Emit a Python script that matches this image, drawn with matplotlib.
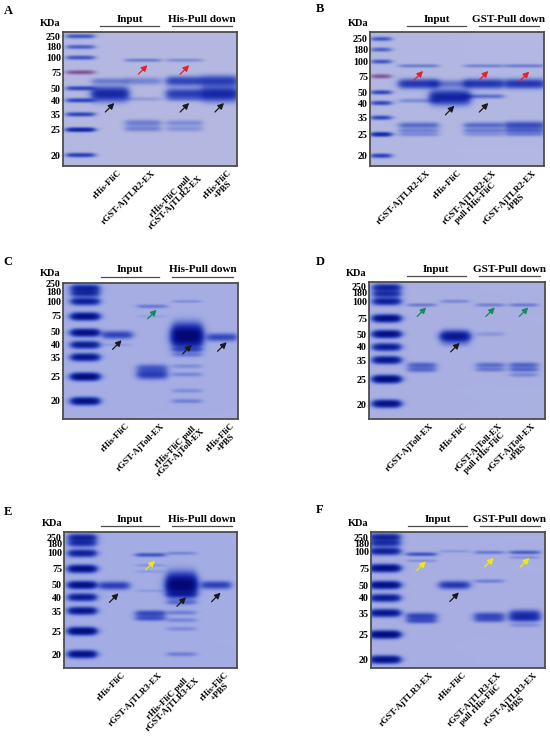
import numpy as np
import matplotlib.pyplot as plt
from matplotlib.colors import to_rgb
from matplotlib.transforms import ScaledTranslation

plt.rcParams['font.family'] = ['Liberation Serif', 'DejaVu Serif']
plt.rcParams['font.weight'] = 'bold'

panels = ['A', 'B', 'C', 'D', 'E', 'F']

# marker lane
ladder_kda = [250, 180, 100, 75, 50, 40, 35, 25, 20]
ladder_pos = {   # where each marker band sits, 0 = top of gel, 1 = bottom
    'A': [0.03, 0.11, 0.19, 0.30, 0.42, 0.51, 0.615, 0.73, 0.92],
    'B': [0.05, 0.13, 0.22, 0.33, 0.45, 0.53, 0.64, 0.765, 0.925],
    'C': [0.037, 0.075, 0.134, 0.245, 0.365, 0.455, 0.546, 0.69, 0.87],
    'D': [0.04, 0.085, 0.14, 0.265, 0.38, 0.475, 0.57, 0.71, 0.89],
    'E': [0.04, 0.08, 0.155, 0.27, 0.39, 0.48, 0.58, 0.73, 0.90],
    'F': [0.037, 0.08, 0.14, 0.265, 0.39, 0.485, 0.596, 0.755, 0.94],
}
# where the size numbers are printed beside the gel
label_pos = {
    'A': [0.03, 0.11, 0.19, 0.30, 0.42, 0.51, 0.615, 0.73, 0.92],
    'B': [0.05, 0.13, 0.22, 0.33, 0.45, 0.53, 0.64, 0.765, 0.925],
    'C': [0.005, 0.061, 0.134, 0.237, 0.359, 0.451, 0.546, 0.688, 0.866],
    'D': [0.032, 0.075, 0.141, 0.268, 0.38, 0.474, 0.572, 0.713, 0.895],
    'E': [0.039, 0.081, 0.154, 0.272, 0.387, 0.48, 0.583, 0.73, 0.902],
    'F': [0.037, 0.081, 0.142, 0.265, 0.392, 0.485, 0.596, 0.755, 0.939],
}
ladder_amount = {
    'A': [0.7, 0.6, 0.7, 0.9, 0.9, 0.9, 0.9, 1.5, 1.0],
    'B': [0.7, 0.6, 0.7, 0.9, 0.9, 0.9, 0.9, 1.5, 1.0],
    'C': [1.3, 1.1, 1.4, 2.0, 2.0, 1.5, 1.7, 2.2, 1.9],
    'D': [1.3, 1.1, 1.4, 2.0, 2.0, 1.5, 1.7, 2.2, 1.9],
    'E': [1.3, 1.1, 1.4, 2.0, 2.0, 1.5, 1.7, 2.2, 1.9],
    'F': [1.3, 1.1, 1.4, 2.0, 2.0, 1.5, 1.7, 2.2, 1.9],
}

lane_names = {
    'A': ['rHis-FliC', 'rGST-AjTLR2-EX', 'rHis-FliC pull\nrGST-AjTLR2-EX', 'rHis-FliC\n+PBS'],
    'B': ['rGST-AjTLR2-EX', 'rHis-FliC', 'rGST-AjTLR2-EX\npull rHis-FliC', 'rGST-AjTLR2-EX\n+PBS'],
    'C': ['rHis-FliC', 'rGST-AjToll-EX', 'rHis-FliC pull\nrGST-AjToll-EX', 'rHis-FliC\n+PBS'],
    'D': ['rGST-AjToll-EX', 'rHis-FliC', 'rGST-AjToll-EX\npull rHis-FliC', 'rGST-AjToll-EX\n+PBS'],
    'E': ['rHis-FliC', 'rGST-AjTLR3-EX', 'rHis-FliC pull\nrGST-AjTLR3-EX', 'rHis-FliC\n+PBS'],
    'F': ['rGST-AjTLR3-EX', 'rHis-FliC', 'rGST-AjTLR3-EX\npull rHis-FliC', 'rGST-AjTLR3-EX\n+PBS'],
}
pull_title = {'A': 'His-Pull down', 'B': 'GST-Pull down', 'C': 'His-Pull down',
              'D': 'GST-Pull down', 'E': 'His-Pull down', 'F': 'GST-Pull down'}

# sample bands: (lane, apparent kDa, amount of stain, spread)
bands = {
    'A': [(1, 60, 0.35, 2), (1, 45, 1.4, 4.5),
          (2, 95, 0.35, 1.2), (2, 60, 0.3, 2.5), (2, 41, 0.15, 1.5), (2, 29, 0.35, 2.2), (2, 25.5, 0.3, 2),
          (3, 95, 0.25, 1.2), (3, 60, 0.9, 3), (3, 45, 1.0, 3.5), (3, 41, 0.15, 1.5), (3, 29, 0.25, 2), (3, 25.5, 0.2, 2),
          (4, 60, 1.0, 3.5), (4, 45, 1.4, 4.5)],
    'B': [(1, 92, 0.35, 1.2), (1, 62, 1.1, 3), (1, 42, 0.25, 1.5), (1, 30, 0.5, 2), (1, 27, 0.3, 1.5), (1, 25, 0.25, 1.5),
          (2, 62, 0.4, 2.5), (2, 45, 1.5, 4.5),
          (3, 92, 0.3, 1.2), (3, 62, 1.1, 3), (3, 46, 0.45, 1.5), (3, 30, 0.5, 2), (3, 27, 0.35, 1.5), (3, 25, 0.2, 1.5),
          (4, 92, 0.35, 1.2), (4, 62, 1.1, 3), (4, 30, 0.8, 2.5), (4, 27, 0.5, 1.8), (4, 25, 0.3, 1.5)],
    'C': [(1, 48, 0.9, 2.5), (1, 40, 0.1, 1),
          (2, 91, 0.35, 1.3), (2, 75, 0.08, 1), (2, 29, 0.6, 2.5), (2, 26, 1.0, 3),
          (3, 100, 0.2, 1), (3, 47, 3.0, 7), (3, 38, 0.5, 1.5), (3, 36, 0.3, 1.5), (3, 30, 0.2, 1.5),
          (3, 26, 0.25, 1.5), (3, 22, 0.2, 1.5), (3, 20, 0.3, 1.5),
          (4, 46, 0.85, 2.5)],
    'D': [(1, 94, 0.35, 1.2), (1, 32, 0.55, 1.8), (1, 29.6, 0.5, 1.8),
          (2, 100, 0.25, 1.2), (2, 48, 2.0, 3.5), (2, 42, 0.15, 2),
          (3, 94, 0.3, 1.2), (3, 50, 0.15, 1.5), (3, 32, 0.45, 1.8), (3, 29.6, 0.35, 1.5),
          (4, 94, 0.35, 1.2), (4, 32, 0.55, 1.8), (4, 29.6, 0.5, 1.5), (4, 27, 0.25, 1.5)],
    'E': [(1, 49.5, 1.0, 2.5),
          (2, 97, 0.7, 1.3), (2, 80, 0.15, 1), (2, 70, 0.12, 1), (2, 45, 0.12, 1), (2, 33.5, 0.85, 2), (2, 31, 0.7, 1.8),
          (3, 100, 0.25, 1.2), (3, 50, 3.0, 7), (3, 42, 0.6, 1.5), (3, 38, 0.35, 1.5), (3, 34, 0.3, 1.5),
          (3, 30, 0.25, 1.5), (3, 26, 0.2, 1.5), (3, 20, 0.3, 1.5),
          (4, 50, 0.95, 2.5)],
    'F': [(1, 95, 0.7, 1.3), (1, 85, 0.2, 1), (1, 33.3, 0.9, 2.2), (1, 31, 0.7, 1.8),
          (2, 100, 0.15, 1), (2, 50, 1.1, 2.5),
          (3, 98, 0.35, 1.2), (3, 55, 0.3, 1.3), (3, 33.5, 0.8, 2.2), (3, 31.5, 0.55, 1.8),
          (4, 98, 0.6, 1.3), (4, 90, 0.2, 1), (4, 34, 1.2, 3), (4, 32, 0.7, 2), (4, 29, 0.2, 1.5)],
}

# arrows: (lane, kDa at the tip, colour key)
arrows = {
    'A': [(1, 39, 'k'), (2, 86, 'r'), (3, 86, 'r'), (3, 39, 'k'), (4, 39, 'k')],
    'B': [(1, 83, 'r'), (2, 39, 'k'), (3, 83, 'r'), (3, 40, 'k'), (4, 82, 'r')],
    'C': [(1, 43.5, 'k'), (2, 85, 'g'), (3, 40, 'k'), (4, 42, 'k')],
    'D': [(1, 90, 'g'), (2, 43, 'k'), (3, 90, 'g'), (4, 90, 'g')],
    'E': [(1, 43, 'k'), (2, 87, 'y'), (3, 40, 'k'), (4, 43.5, 'k')],
    'F': [(1, 84, 'y'), (2, 44, 'k'), (3, 89, 'y'), (4, 89, 'y')],
}

# layout (pixels of the 550 x 736 figure)
W, H = 550, 736
gel_box = {'A': (63, 32, 237, 166), 'B': (370, 32, 544, 166),
           'C': (63, 283, 238, 419), 'D': (369, 282, 545, 419),
           'E': (64, 532, 237, 668), 'F': (371, 532, 545, 668)}
letter_xy = {'A': (8, 11), 'B': (320, 9), 'C': (8, 262), 'D': (320, 262), 'E': (8, 512), 'F': (320, 510)}
lane_pos = {   # ladder first, then the four samples
    'A': [0.10, 0.27, 0.46, 0.70, 0.90],
    'B': [0.063, 0.28, 0.46, 0.655, 0.89],
    'C': [0.126, 0.31, 0.51, 0.71, 0.91],
    'D': [0.10, 0.30, 0.49, 0.69, 0.88],
    'E': [0.105, 0.29, 0.50, 0.68, 0.88],
    'F': [0.08, 0.29, 0.48, 0.68, 0.885],
}
lane_hw = {'A': (0.075, 0.10), 'B': (0.052, 0.11), 'C': (0.072, 0.08),
           'D': (0.07, 0.075), 'E': (0.072, 0.08), 'F': (0.078, 0.08)}
gel_bg = {'A': '#b5b9e1', 'B': '#b3b8e2', 'C': '#a6aee4', 'D': '#aab0e2', 'E': '#a4ade4', 'F': '#a9afe3'}
band_col = '#2a3cb4'
arrow_col = {'k': '#1a1a1a', 'r': '#e8202a', 'g': '#168a5a', 'y': '#f5ea00'}

fig = plt.figure(figsize=(5.5, 7.36), dpi=100)

for p in panels:
    x0, y0, x1, y1 = gel_box[p]
    gw, gh = x1 - x0, y1 - y0
    ax = fig.add_axes([x0 / W, 1 - y1 / H, gw / W, gh / H])
    bg = np.array(to_rgb(gel_bg[p]))
    pos = ladder_pos[p]

    def kda_to_y(k):
        return np.interp(np.log(k), np.log(ladder_kda[::-1]), pos[::-1])

    yy = np.linspace(0, 1, 2 * gh)[:, None]
    xx = np.linspace(0, 1, 2 * gw)[None, :]

    def band(xc, hw, yc, amount, spread, colour):
        k = -np.log(np.clip(np.array(to_rgb(colour)) / bg, 1e-3, 1))
        prof = np.exp(-0.5 * ((yy - yc) / (spread / gh)) ** 2)
        prof = prof / (1 + np.exp(-(hw - np.abs(xx - xc)) / 0.012))
        return amount * prof[:, :, None] * k

    absorb = np.zeros((2 * gh, 2 * gw, 3))
    big = p in 'CDEF'
    for i, k in enumerate(ladder_kda):
        c = '#7a4a8a' if (k == 75 and not big) else ('#1f32a8' if big else band_col)
        absorb += band(lane_pos[p][0], lane_hw[p][0], pos[i], ladder_amount[p][i], 2.3 if big else 1.4, c)
    for lane, k, amount, spread in bands[p]:
        absorb += band(lane_pos[p][lane], lane_hw[p][1], kda_to_y(k), amount, spread, band_col)
    img = bg * np.exp(-absorb)
    ax.imshow(img, extent=(0, 1, 1, 0), aspect='auto', interpolation='bilinear')
    ax.set_xlim(0, 1)
    ax.set_ylim(1, 0)

    for s in ax.spines.values():
        s.set_color('#4d4d4d')
        s.set_linewidth(1.3)

    ax.set_yticks(label_pos[p], labels=[str(k) for k in ladder_kda], fontsize=7.2, fontweight='bold')
    ax.tick_params(axis='y', length=0, pad=1.5)
    ax.set_xticks(lane_pos[p][1:], labels=lane_names[p], rotation=45, ha='right', va='top',
                  rotation_mode='anchor', multialignment='center', fontsize=6.5, linespacing=1.0)
    ax.tick_params(axis='x', length=0, pad=2)
    for lab in ax.get_xticklabels():
        lab.set_transform(lab.get_transform() + ScaledTranslation(0.08, 0, fig.dpi_scale_trans))

    ax.text(-2 / gw, 1 + 9 / gh, 'KDa', transform=ax.transAxes, ha='right', va='center', fontsize=7.5)
    for (a, b), title in [((0.215, 0.55), 'Input'), ((0.625, 0.97), pull_title[p])]:
        ax.text((a + b) / 2, 1 + 13 / gh, title, transform=ax.transAxes, ha='center', va='center', fontsize=8)
        ax.plot([a, b], [1 + 6 / gh] * 2, transform=ax.transAxes, color='#4d4d4d', lw=0.9, clip_on=False)

    for lane, k, c in arrows[p]:
        tip = (lane_pos[p][lane] + 0.025, kda_to_y(k))
        ax.annotate('', xy=tip, xytext=(-6.5, -6.5), textcoords='offset points',
                    arrowprops=dict(arrowstyle='-|>,head_length=0.35,head_width=0.18', color=arrow_col[c],
                                    lw=0.9, shrinkA=0, shrinkB=0))

    lx, ly = letter_xy[p]
    fig.text(lx / W, 1 - ly / H, p, ha='center', va='center', fontsize=9)

fig.savefig('out.png', dpi=100)
